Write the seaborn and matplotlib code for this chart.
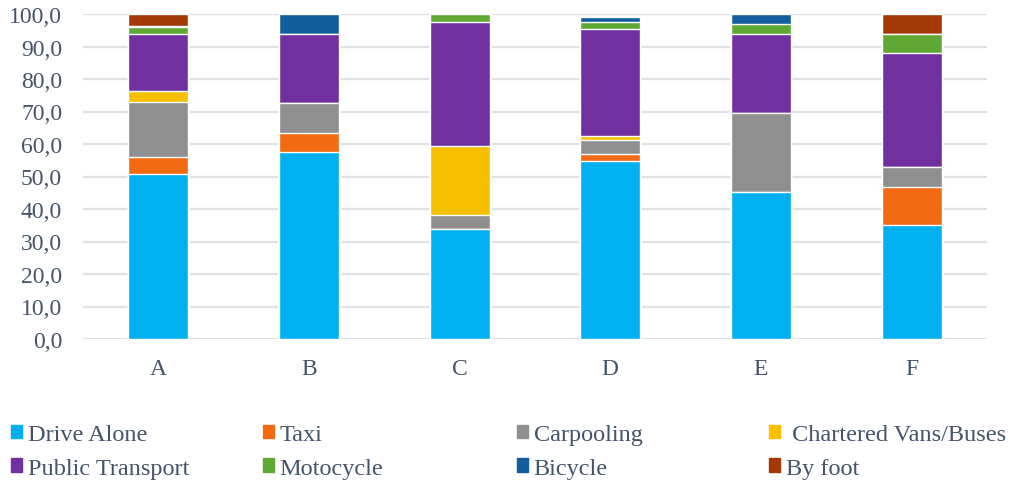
import numpy as np
import pandas as pd
import matplotlib
matplotlib.use("Agg")
import matplotlib.pyplot as plt
import matplotlib.patches as mpatches
import seaborn as sns

# data (percent share per mode)
groups = ["A", "B", "C", "D", "E", "F"]
modes = ["Drive Alone", "Taxi", "Carpooling", " Chartered Vans/Buses",
         "Public Transport", "Motocycle", "Bicycle", "By foot"]
drive_alone = [50.8, 57.5, 33.8, 54.9, 45.2, 35.1]
taxi = [5.2, 5.9, 0.0, 2.1, 0.0, 11.8]
carpooling = [16.8, 9.2, 4.4, 4.3, 24.3, 6.0]
chartered = [3.5, 0.0, 21.2, 1.3, 0.0, 0.0]
public_transport = [17.5, 21.2, 38.1, 32.8, 24.3, 35.2]
motocycle = [2.2, 0.0, 2.5, 2.1, 3.1, 5.7]
bicycle = [0.3, 6.2, 0.0, 1.6, 3.1, 0.0]
by_foot = [3.7, 0.0, 0.0, 0.0, 0.0, 6.2]

colors = ["#00B0F0", "#F26B12", "#8F8F8F", "#F6C000",
          "#7030A0", "#5FA834", "#125D9C", "#A33A06"]
text_color = "#44546A"

series = [drive_alone, taxi, carpooling, chartered,
          public_transport, motocycle, bicycle, by_foot]
df = pd.DataFrame(dict(zip(modes, series)), index=groups)
cum = df.cumsum(axis=1)

sns.set_style("white")
plt.rcParams["font.family"] = ["Liberation Serif", "DejaVu Serif"]

fig = plt.figure(figsize=(10.11, 4.81), dpi=100)
ax = fig.add_axes([83 / 1011, 141 / 481, 904 / 1011, 325 / 481])

# stacked bars: draw cumulative totals from the top layer down
for mode, col in reversed(list(zip(modes, colors))):
    sns.barplot(x=groups, y=cum[mode].values, color=col, width=0.4,
                saturation=1, ax=ax, zorder=3)

ax.set_xlim(-0.5, 5.5)
ax.set_ylim(0, 100)
ax.set_yticks(np.arange(0, 101, 10))
ax.set_yticklabels([f"{v:.1f}".replace(".", ",") for v in np.arange(0, 101, 10)])
ax.grid(axis="y", color="#DDE2E7", linewidth=1.6, zorder=0)
ax.set_axisbelow(True)
for s in ax.spines.values():
    s.set_visible(False)
ax.tick_params(axis="y", length=0, pad=15, labelsize=17, labelcolor=text_color)
ax.tick_params(axis="x", length=0, pad=14, labelsize=17, labelcolor=text_color)
ax.set_xlabel("")
ax.set_ylabel("")

# legend: four columns of two entries each, row-wise like the reference
col_x = [11, 263, 517, 769]
for i, x in enumerate(col_x):
    handles = [mpatches.Patch(color=colors[i]), mpatches.Patch(color=colors[i + 4])]
    labels = [modes[i], modes[i + 4]]
    leg = fig.legend(handles, labels, loc="upper left",
                     bbox_to_anchor=(x / 1011, 1 - 425 / 481), frameon=False,
                     handlelength=0.46, handleheight=0.46, handletextpad=0.22,
                     labelspacing=0.52, borderaxespad=0, borderpad=0,
                     fontsize=17.5, labelcolor=text_color)

fig.savefig("out.png", dpi=100)
